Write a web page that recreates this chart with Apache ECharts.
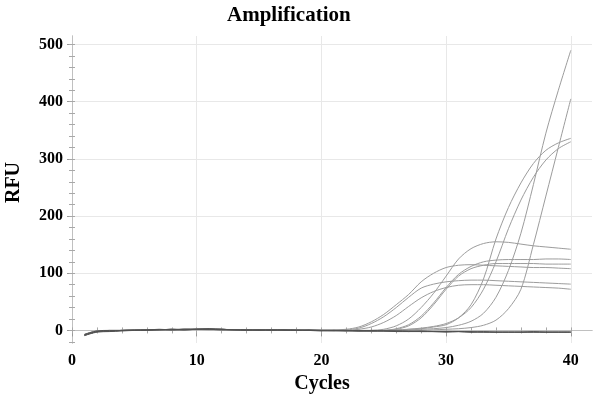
<!DOCTYPE html>
<html>
<head>
<meta charset="utf-8">
<title>Amplification</title>
<script src="https://cdn.jsdelivr.net/npm/echarts@6/dist/echarts.min.js"></script>
<style>
  html, body { margin: 0; padding: 0; background: #fff; }
  #chart { width: 602px; height: 403px; }
</style>
</head>
<body>
<div id="chart"></div>
<script>
// cycle numbers and RFU readings per well
const cycles = [1, 2, 3, 4, 5, 6, 7, 8, 9, 10, 11, 12, 13, 14, 15, 16, 17, 18, 19, 20,
  21, 22, 23, 24, 25, 26, 27, 28, 29, 30, 31, 32, 33, 34, 35, 36, 37, 38, 39, 40]

// negative wells, flat to the end
const neg1 = [-8, -2, -1, 0, 0, 1, 1, 1, 2, 2, 2, 1, 1, 1, 1, 0, 1, 1, 0, 0,
  0, 0, -1, 0, -1, -1, -1, -2, -2, -2, -2, -2, -3, -3, -3, -3, -3, -3, -3, -3]
const neg2 = [-7, -1, 0, 0, 1, 1, 2, 1, 1, 2, 3, 2, 1, 1, 0, 1, 1, 0, 1, 0,
  0, -1, 0, -1, -1, -1, -2, -1, -2, -2, -2, -3, -2, -3, -3, -3, -2, -3, -3, -3]
const neg3 = [-9, -3, -2, -1, 0, 0, 1, 2, 1, 2, 2, 2, 1, 0, 1, 1, 0, 0, 0, -1,
  0, 0, -1, -1, -1, -2, -2, -2, -2, -3, -2, -3, -3, -3, -3, -3, -3, -3, -3, -3]

// early wells, low plateau
const wellA = [-8, -2, -1, 0, 1, 1, 1, 2, 2, 2, 2, 1, 1, 1, 0, 1, 1, 0, 0, 1,
  1, 2, 6, 15, 28, 45, 63, 85, 100, 110, 114, 115, 114, 113, 112, 111, 110, 110, 109, 108]
const wellB = [-7, -1, -1, 0, 0, 1, 1, 2, 1, 2, 3, 1, 1, 1, 1, 0, 0, 1, 0, 0,
  0, 1, 4, 12, 24, 40, 58, 74, 81, 85, 87, 88, 88, 87, 86, 85, 84, 83, 82, 81]
const wellC = [-8, -2, 0, 0, 1, 1, 1, 1, 2, 2, 2, 2, 1, 1, 1, 1, 0, 1, 0, 0,
  0, 0, 2, 6, 14, 26, 42, 57, 68, 75, 79, 80, 80, 79, 78, 77, 76, 75, 74, 72]
const wellT = [-9, -2, -1, 0, 0, 1, 1, 1, 2, 2, 2, 1, 1, 1, 1, 1, 0, 0, 1, 0,
  0, 0, 0, 0, 2, 8, 20, 40, 65, 95, 125, 143, 152, 155, 154, 151, 148, 146, 144, 142]
const wellP = [-8, -2, -1, 0, 1, 1, 1, 2, 2, 2, 1, 1, 1, 1, 0, 1, 0, 1, 0, 0,
  0, 0, -1, 0, 0, 3, 10, 25, 48, 75, 98, 112, 120, 123, 124, 124, 124, 125, 125, 124]
const wellD = [-7, -1, 0, 0, 0, 1, 1, 1, 1, 2, 2, 2, 1, 1, 1, 0, 0, 0, 1, 0,
  0, -1, 0, 0, 0, 2, 8, 22, 45, 72, 95, 108, 114, 117, 117, 117, 117, 116, 116, 116]

// late wells, still climbing at 40
const wellE = [-8, -2, -1, 0, 0, 1, 1, 1, 2, 2, 2, 1, 1, 0, 1, 1, 0, 0, 0, 0,
  -1, 0, -1, 0, 0, 1, 2, 3, 6, 10, 22, 45, 90, 160, 215, 258, 292, 315, 328, 336]
const wellF = [-8, -1, -1, 0, 1, 0, 1, 1, 2, 2, 2, 2, 1, 1, 1, 0, 1, 0, 0, 0,
  0, -1, 0, -1, 0, 0, 2, 4, 7, 12, 22, 40, 72, 120, 178, 228, 268, 298, 318, 330]
const wellG = [-9, -2, -1, 0, 0, 1, 1, 2, 1, 2, 2, 1, 1, 1, 1, 0, 0, 1, 0, 0,
  -1, 0, 0, -1, 0, 0, 1, 2, 3, 5, 9, 16, 30, 58, 105, 170, 255, 345, 420, 490]
const wellH = [-8, -2, 0, 0, 1, 1, 1, 1, 2, 2, 2, 2, 1, 1, 0, 1, 1, 0, 0, 0,
  -1, 0, -1, -1, 0, -1, -1, 0, 1, 2, 3, 5, 9, 18, 38, 72, 150, 235, 320, 405]

const negWells = [neg1, neg2, neg3]
const posWells = [wellA, wellB, wellC, wellT, wellP, wellD, wellE, wellF, wellG, wellH]

const xMajor = [0, 10, 20, 30, 40]
const xMinor = [0, 2, 4, 6, 8, 10, 12, 14, 16, 18, 20, 22, 24, 26, 28, 30, 32, 34, 36, 38, 40]
const yMajor = [0, 100, 200, 300, 400, 500]
const yMinor = [-20, 0, 20, 40, 60, 80, 100, 120, 140, 160, 180, 200, 220, 240, 260, 280, 300,
  320, 340, 360, 380, 400, 420, 440, 460, 480, 500]

const FONT = 'Liberation Serif'
const X_MIN = 0, X_MAX = 41.7
const Y_MIN = -22, Y_MAX = 515

const chart = echarts.init(document.getElementById('chart'))

const labelStyle = { color: '#000', fontFamily: FONT, fontWeight: 'bold', fontSize: 16 }
const nameStyle = { color: '#000', fontFamily: FONT, fontWeight: 'bold', fontSize: 20 }

function minorAxis(pos, values, showLine) {
  const horiz = pos === 'top' || pos === 'bottom'
  return {
    type: 'value',
    position: pos,
    min: horiz ? X_MIN : Y_MIN,
    max: horiz ? X_MAX : Y_MAX,
    axisLine: { show: showLine, lineStyle: { color: '#c0c0c0', width: 1 } },
    axisTick: { show: true, customValues: values, length: 3, lineStyle: { color: '#a8a8a8' } },
    axisLabel: { show: false },
    splitLine: { show: false }
  }
}

function wellSeries(vals, i, color) {
  return {
    type: 'line',
    name: 'well' + i,
    xAxisIndex: 0,
    yAxisIndex: 0,
    data: cycles.map((c, k) => [c, vals[k]]),
    showSymbol: false,
    smooth: 0.3,
    lineStyle: { color: color, width: 1 },
    emphasis: { disabled: true }
  }
}

chart.setOption({
  animation: false,
  backgroundColor: '#fff',
  title: {
    text: 'Amplification',
    left: 227,
    top: 5,
    padding: 0,
    textStyle: { color: '#000', fontFamily: FONT, fontWeight: 'bold', fontSize: 21 }
  },
  grid: { left: 72, right: 10, top: 36, bottom: 60, containLabel: false, outerBoundsMode: 'none' },
  xAxis: [
    {
      type: 'value',
      position: 'bottom',
      min: X_MIN,
      max: X_MAX,
      name: 'Cycles',
      nameLocation: 'middle',
      nameGap: 31,
      nameTextStyle: Object.assign({ padding: [0, 20, 0, 0] }, nameStyle),
      axisLine: { show: true, lineStyle: { color: '#b8b8b8', width: 1 } },
      axisTick: { show: true, customValues: xMajor, length: 6, lineStyle: { color: '#999' } },
      axisLabel: Object.assign({ customValues: xMajor, margin: 10 }, labelStyle),
      splitLine: { show: true, lineStyle: { color: '#e8e8e8', width: 1 } }
    },
    minorAxis('bottom', xMinor, false),
    minorAxis('top', xMinor, true)
  ],
  yAxis: [
    {
      type: 'value',
      position: 'left',
      min: Y_MIN,
      max: Y_MAX,
      name: 'RFU',
      nameLocation: 'middle',
      nameGap: 48,
      nameTextStyle: Object.assign({ padding: [0, 0, 0, 14] }, nameStyle),
      axisLine: { show: true, lineStyle: { color: '#b8b8b8', width: 1 } },
      axisTick: { show: true, customValues: yMajor, length: 5, lineStyle: { color: '#999' } },
      axisLabel: Object.assign({ customValues: yMajor, margin: 9 }, labelStyle),
      splitLine: { show: true, lineStyle: { color: '#e8e8e8', width: 1 } }
    },
    minorAxis('left', yMinor, false),
    minorAxis('right', yMinor, true)
  ],
  series: [
    ...posWells.map((v, i) => wellSeries(v, i + 1, '#9c9c9c')),
    ...negWells.map((v, i) => wellSeries(v, i + 11, '#505050'))
  ]
})
</script>
</body>
</html>
